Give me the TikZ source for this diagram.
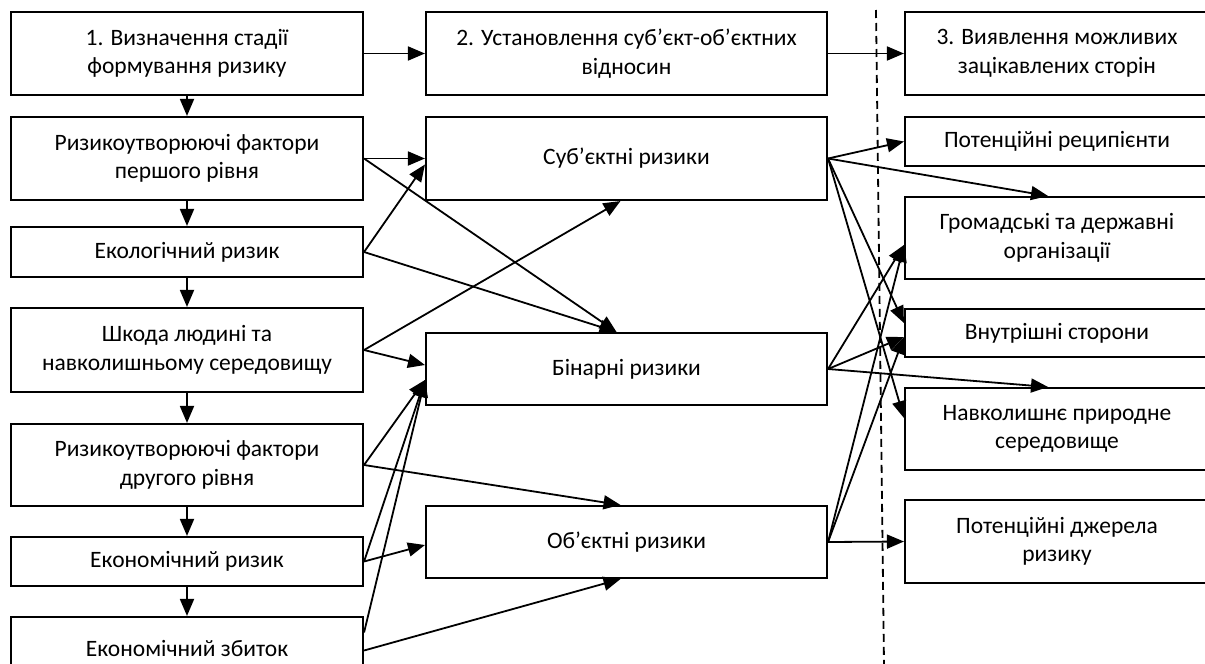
\documentclass[tikz,border=0pt]{standalone}
\usepackage{fontspec}
\setmainfont{Carlito}
\usetikzlibrary{arrows.meta,calc}
\begin{document}
\begin{tikzpicture}[x=1pt,y=-1pt,
  box/.style={draw,line width=2.1pt,rectangle,inner sep=0pt,align=center,
    font=\fontsize{23.5}{28.5}\selectfont},
  lbox/.style={box,minimum width=352pt},
  mbox/.style={box,minimum width=401pt},
  rbox/.style={box,minimum width=304pt},
  arr/.style={line width=1.8pt,-{Triangle[length=17pt,width=14pt]}},
  sep/.style={line width=1.8pt,dash pattern=on 8pt off 5pt}]
\clip (0,0) rectangle (1205,664);
% left column
\node[lbox,minimum height=83pt] (L1) at (187,53.5) {1. Визначення стадії\\формування ризику};
\node[lbox,minimum height=83pt] (L2) at (187,158.5) {Ризикоутворюючі фактори\\першого рівня};
\node[lbox,minimum height=50pt] (L3) at (187,252) {Екологічний ризик};
\node[lbox,minimum height=84pt] (L4) at (187,350) {Шкода людині та\\навколишньому середовищу};
\node[lbox,minimum height=82pt] (L5) at (187,465) {Ризикоутворюючі фактори\\другого рівня};
\node[lbox,minimum height=49pt] (L6) at (187,561.5) {Економічний ризик};
\node[lbox,minimum height=63pt] (L7) at (187,648.5) {Економічний збиток};
% middle column
\node[mbox,minimum height=83pt] (M1) at (626.5,53.5) {2. Установлення суб’єкт-об’єктних\\відносин};
\node[mbox,minimum height=83pt] (M2) at (626.5,158.5) {Суб’єктні ризики};
\node[mbox,minimum height=72pt] (M3) at (626.5,369) {Бінарні ризики};
\node[mbox,minimum height=72pt] (M4) at (626.5,542) {Об’єктні ризики};
% right column
\node[rbox,minimum height=83pt] (R1) at (1057,53.5) {3. Виявлення можливих\\зацікавлених сторін};
\node[rbox,minimum height=49pt] (R2) at (1057,141.5) {Потенційні реципієнти};
\node[rbox,minimum height=82pt] (R3) at (1057,238) {Громадські та державні\\організації};
\node[rbox,minimum height=48pt] (R4) at (1057,333) {Внутрішні сторони};
\node[rbox,minimum height=82pt] (R5) at (1057,429) {Навколишнє природне\\середовище};
\node[rbox,minimum height=83pt] (R6) at (1057,541.5) {Потенційні джерела\\ризику};
% separator
\coordinate (sepT) at (876,10);
\coordinate (sepB) at (884,664);
\draw[sep] (sepT) -- (sepB);
% vertical chain
\draw[arr] (L1) -- (L2);
\draw[arr] (L2) -- (L3);
\draw[arr] (L3) -- (L4);
\draw[arr] (L4) -- (L5);
\draw[arr] (L5) -- (L6);
\draw[arr] (L6) -- (L7);
% top row
\draw[arr] (L1.east) -- (M1.west);
\draw[arr] (M1.east) -- (R1.west);
% left to middle
\draw[arr] (L2.east) -- (M2.west);
\draw[arr] (L2.east) -- ([xshift=-10pt]M3.north);
\draw[arr] (L3.east) -- ([yshift=-6pt]M2.west);
\draw[arr] (L3.east) -- ([xshift=-10pt]M3.north);
\draw[arr] (L4.east) -- ([xshift=-6pt]M2.south);
\draw[arr] (L4.east) -- ([yshift=4pt]M3.west);
\draw[arr] (L5.east) -- ([yshift=-11pt]M3.west);
\draw[arr] (L5.east) -- ([xshift=-6pt]M4.north);
\draw[arr] (L6.east) -- ([yshift=-3pt]M4.west);
\draw[arr] (L6.east) -- ([yshift=-11pt]M3.west);
\draw[arr] ([yshift=16pt]L7.east) -- ([yshift=-11pt]M3.west);
\draw[arr] ([yshift=-2pt]L7.east) -- ([xshift=-6pt]M4.south);
% middle to right
\draw[arr] (M2.east) -- (R2.west);
\draw[arr] (M2.east) -- ([xshift=-9pt]R3.north);
\draw[arr] (M2.east) -- ([yshift=10pt]R4.west);
\draw[arr] (M2.east) -- ([yshift=11pt]R5.west);
\draw[arr] (M3.east) -- ([yshift=-7pt]R3.west);
\draw[arr] (M3.east) -- ([yshift=-4pt]R4.west);
\draw[arr] (M3.east) -- ([xshift=-9pt]R5.north);
\draw[arr] (M4.east) -- (R6.west);
\draw[arr] (M4.east) -- ([yshift=-7pt]R3.west);
\draw[arr] (M4.east) -- ([yshift=-4pt]R4.west);
\end{tikzpicture}
\end{document}
